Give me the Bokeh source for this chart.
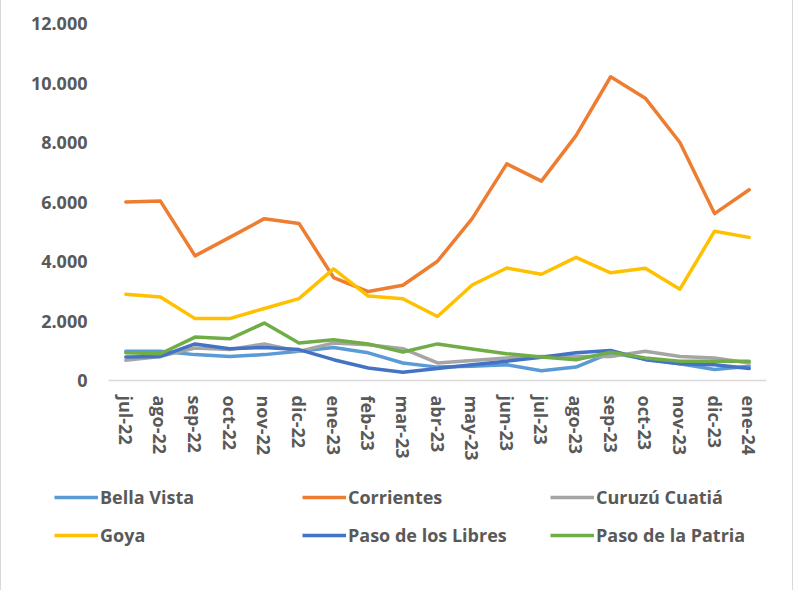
from bokeh.plotting import figure
from bokeh.layouts import column, row
from bokeh.models import FactorRange, Range1d, FixedTicker, Legend, LegendItem
from bokeh.embed import file_html
from bokeh.resources import INLINE

months = ["jul-22", "ago-22", "sep-22", "oct-22", "nov-22", "dic-22", "ene-23",
          "feb-23", "mar-23", "abr-23", "may-23", "jun-23", "jul-23", "ago-23",
          "sep-23", "oct-23", "nov-23", "dic-23", "ene-24"]

bella_vista = [980, 980, 870, 810, 870, 980, 1110, 930, 590, 450, 480, 530, 330, 450, 930, 720, 560, 370, 480]
corrientes = [6000, 6030, 4190, 4810, 5440, 5280, 3460, 2990, 3200, 4010, 5440, 7280, 6700, 8230, 10210, 9490, 8000, 5610, 6410]
curuzu_cuatia = [680, 810, 1090, 1040, 1230, 980, 1260, 1200, 1070, 590, 670, 760, 810, 810, 810, 980, 810, 760, 590]
goya = [2900, 2810, 2080, 2080, 2420, 2750, 3750, 2840, 2750, 2150, 3210, 3780, 3570, 4140, 3620, 3770, 3070, 5020, 4810]
paso_libres = [790, 810, 1230, 1070, 1110, 1040, 700, 420, 280, 400, 530, 650, 780, 930, 1010, 700, 560, 530, 400]
paso_patria = [930, 900, 1460, 1400, 1930, 1260, 1370, 1230, 960, 1230, 1060, 900, 790, 700, 950, 760, 650, 650, 650]

series_names = ["Bella Vista", "Corrientes", "Curuzú Cuatiá", "Goya", "Paso de los Libres", "Paso de la Patria"]
series_values = [bella_vista, corrientes, curuzu_cuatia, goya, paso_libres, paso_patria]
series_colors = ["#5B9BD5", "#ED7D31", "#A5A5A5", "#FFC000", "#4472C4", "#70AD47"]

y_ticks = [0, 2000, 4000, 6000, 8000, 10000, 12000]
y_tick_labels = ["0", "2.000", "4.000", "6.000", "8.000", "10.000", "12.000"]

FONT = "Open Sans"
TXT = "#595959"
BORDER = {"border-left": "1px solid #D9D9D9", "border-right": "1px solid #D9D9D9"}

p = figure(width=793, height=470, output_backend="svg", toolbar_location=None,
           x_range=FactorRange(factors=months, range_padding=0),
           y_range=Range1d(0, 12000),
           min_border_left=107, min_border_right=28, min_border_top=23, min_border_bottom=90)
p.outline_line_color = None
p.xgrid.visible = False
p.ygrid.visible = False
p.styles = BORDER

for name, vals, col in zip(series_names, series_values, series_colors):
    p.line(x=months, y=vals, line_color=col, line_width=3.5,
           line_join="round", line_cap="round")

# axes
p.yaxis.ticker = FixedTicker(ticks=y_ticks)
p.yaxis.major_label_overrides = {t: l for t, l in zip(y_ticks, y_tick_labels)}
p.yaxis.axis_line_color = None
p.yaxis.major_tick_line_color = None
p.yaxis.minor_tick_line_color = None
p.yaxis.major_tick_out = 0
p.yaxis.major_label_standoff = 21
p.yaxis.major_label_text_font = FONT
p.yaxis.major_label_text_font_style = "bold"
p.yaxis.major_label_text_font_size = "18px"
p.yaxis.major_label_text_color = TXT

p.xaxis.axis_line_color = "#D9D9D9"
p.xaxis.axis_line_width = 1.5
p.xaxis.major_tick_line_color = None
p.xaxis.minor_tick_line_color = None
p.xaxis.major_tick_out = 0
p.xaxis.major_label_standoff = 15
p.xaxis.major_label_orientation = "vertical"
p.xaxis.major_label_text_font = FONT
p.xaxis.major_label_text_font_style = "bold"
p.xaxis.major_label_text_font_size = "18px"
p.xaxis.major_label_text_color = TXT

# legend panel: a separate figure below the chart; the series are drawn there
# outside its visible y range, only so the legend can show their line styles
lg = figure(width=793, height=120, output_backend="svg", toolbar_location=None,
            x_range=FactorRange(factors=months, range_padding=0), y_range=Range1d(20000, 30000),
            min_border_left=0, min_border_right=0, min_border_top=0, min_border_bottom=0)
lg.axis.visible = False
lg.grid.visible = False
lg.outline_line_color = None
lg.styles = BORDER
proxies = [lg.line(x=months, y=vals, line_color=c, line_width=3.5)
           for vals, c in zip(series_values, series_colors)]
items = [LegendItem(label=n, renderers=[r]) for n, r in zip(series_names, proxies)]
legend = Legend(items=items, orientation="horizontal", ncols=3, location=(53, 42),
                glyph_width=44, glyph_height=20, label_standoff=2, label_width=190,
                label_height=26, spacing=12, padding=0, margin=0,
                border_line_color=None, background_fill_alpha=0,
                label_text_font=FONT, label_text_font_style="bold",
                label_text_font_size="18px", label_text_color=TXT)
lg.add_layout(legend, "center")

layout = column(p, row(lg), spacing=0)
open("out.html", "w").write(file_html(layout, INLINE))
